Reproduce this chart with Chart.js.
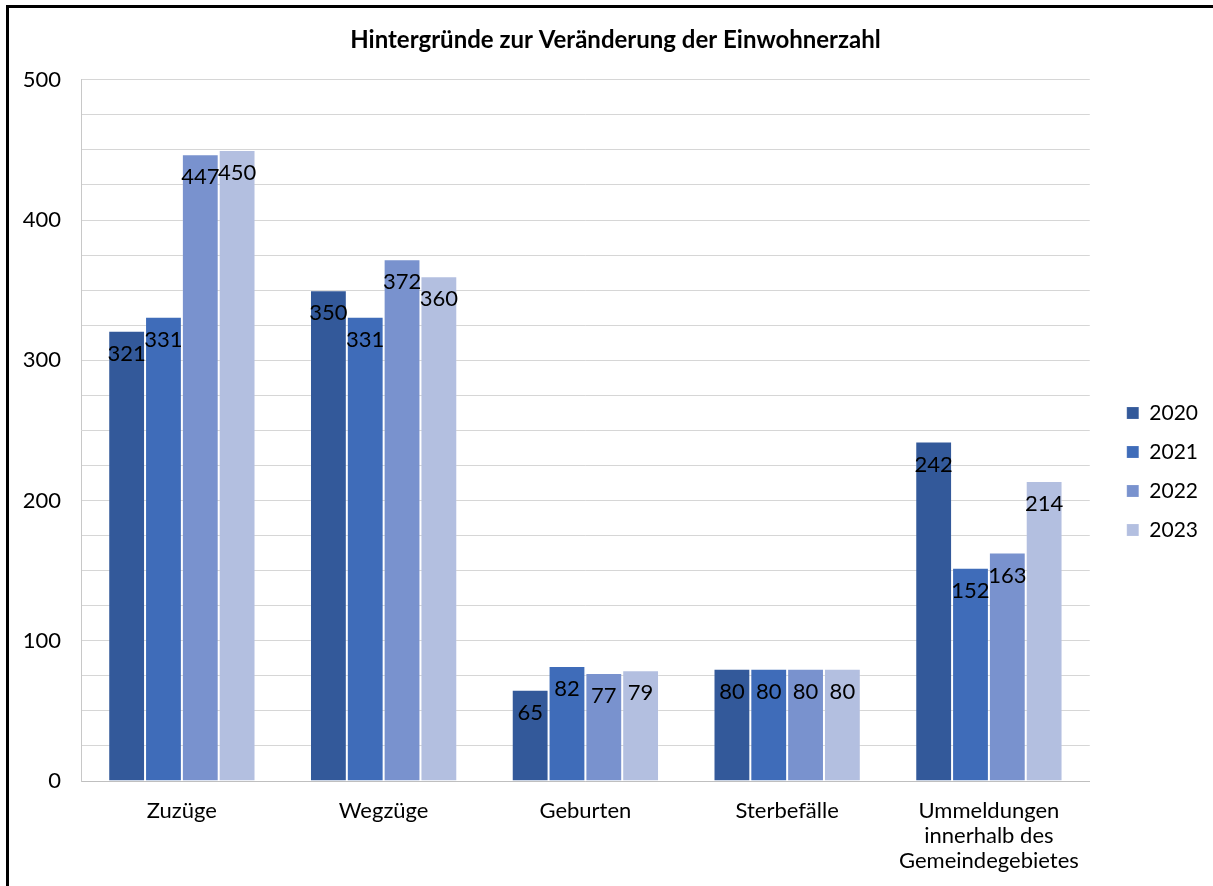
<!DOCTYPE html>
<html lang="de">
<head>
<meta charset="utf-8">
<title>Hintergründe zur Veränderung der Einwohnerzahl</title>
<script src="https://cdn.jsdelivr.net/npm/chart.js@4"></script>
<style>
  html, body { margin: 0; padding: 0; background: #fff; overflow: hidden; }
  #frame {
    position: absolute; left: 6px; top: 5px;
    border-left: 3px solid #000; border-top: 3px solid #000;
    width: 1220px; height: 960px;
  }
  #chart { display: block; }
</style>
</head>
<body>
<div id="frame"><canvas id="chart" width="1208" height="940"></canvas></div>
<script>
const categories = ['Zuzüge', 'Wegzüge', 'Geburten', 'Sterbefälle', ['Ummeldungen', 'innerhalb des', 'Gemeindegebietes']];
const years = ['2020', '2021', '2022', '2023'];
const values2020 = [321, 350, 65, 80, 242];
const values2021 = [331, 331, 82, 80, 152];
const values2022 = [447, 372, 77, 80, 163];
const values2023 = [450, 360, 79, 80, 214];
const colors = ['#33599A', '#3F6CB9', '#7992CE', '#B3BFE0'];

const series = [values2020, values2021, values2022, values2023];

// Werte oben in den Balken
const barLabels = {
  id: 'barLabels',
  afterDatasetsDraw(chart) {
    const ctx = chart.ctx;
    ctx.save();
    ctx.font = '22px Lato';
    ctx.fillStyle = '#000';
    ctx.textAlign = 'center';
    ctx.textBaseline = 'middle';
    chart.data.datasets.forEach((ds, i) => {
      chart.getDatasetMeta(i).data.forEach((bar, j) => {
        ctx.fillText(String(ds.data[j]), bar.x, bar.y + 23);
      });
    });
    ctx.restore();
  }
};

new Chart(document.getElementById('chart').getContext('2d'), {
  type: 'bar',
  data: {
    labels: categories,
    datasets: years.map((y, i) => ({
      label: y,
      data: series[i],
      backgroundColor: colors[i],
      borderColor: 'rgba(255,255,255,0.15)',
      borderWidth: 1,
      barPercentage: 1,
      categoryPercentage: 0.73
    }))
  },
  options: {
    responsive: false,
    animation: false,
    devicePixelRatio: 1,
    layout: { padding: { left: 14, right: 9, top: 0, bottom: 13 } },
    plugins: {
      title: {
        display: true,
        text: 'Hintergründe zur Veränderung der Einwohnerzahl',
        color: '#000',
        font: { family: 'Lato', size: 24, weight: 'bold' },
        padding: { top: 18, bottom: 25 }
      },
      legend: {
        position: 'right',
        labels: {
          color: '#000',
          font: { family: 'Lato', size: 21 },
          boxWidth: 12,
          boxHeight: 12,
          padding: 18
        }
      },
      tooltip: { enabled: false }
    },
    scales: {
      x: {
        grid: { display: false, drawTicks: false },
        border: { display: true, color: '#bfbfbf', width: 1 },
        ticks: {
          color: '#000',
          font: { family: 'Lato', size: 22, lineHeight: 1.136 },
          padding: 17,
          maxRotation: 0,
          autoSkip: false
        },
        afterFit: s => { s.height = 154; }
      },
      y: {
        min: 0,
        max: 500,
        grid: { color: '#d6d6d6', lineWidth: 1, drawTicks: false },
        border: { display: true, color: '#c8c8c8', width: 1 },
        ticks: {
          stepSize: 25,
          autoSkip: false,
          color: '#000',
          font: { family: 'Lato', size: 22 },
          padding: 20,
          callback: v => (v % 100 === 0 ? v : '')
        },
        afterFit: s => { s.width = 58; }
      },
      gap: {
        axis: 'y',
        position: 'right',
        display: true,
        grid: { display: false },
        border: { display: false },
        ticks: { display: false },
        afterFit: s => { s.width = 19; }
      }
    }
  },
  plugins: [barLabels]
});
</script>
</body>
</html>
